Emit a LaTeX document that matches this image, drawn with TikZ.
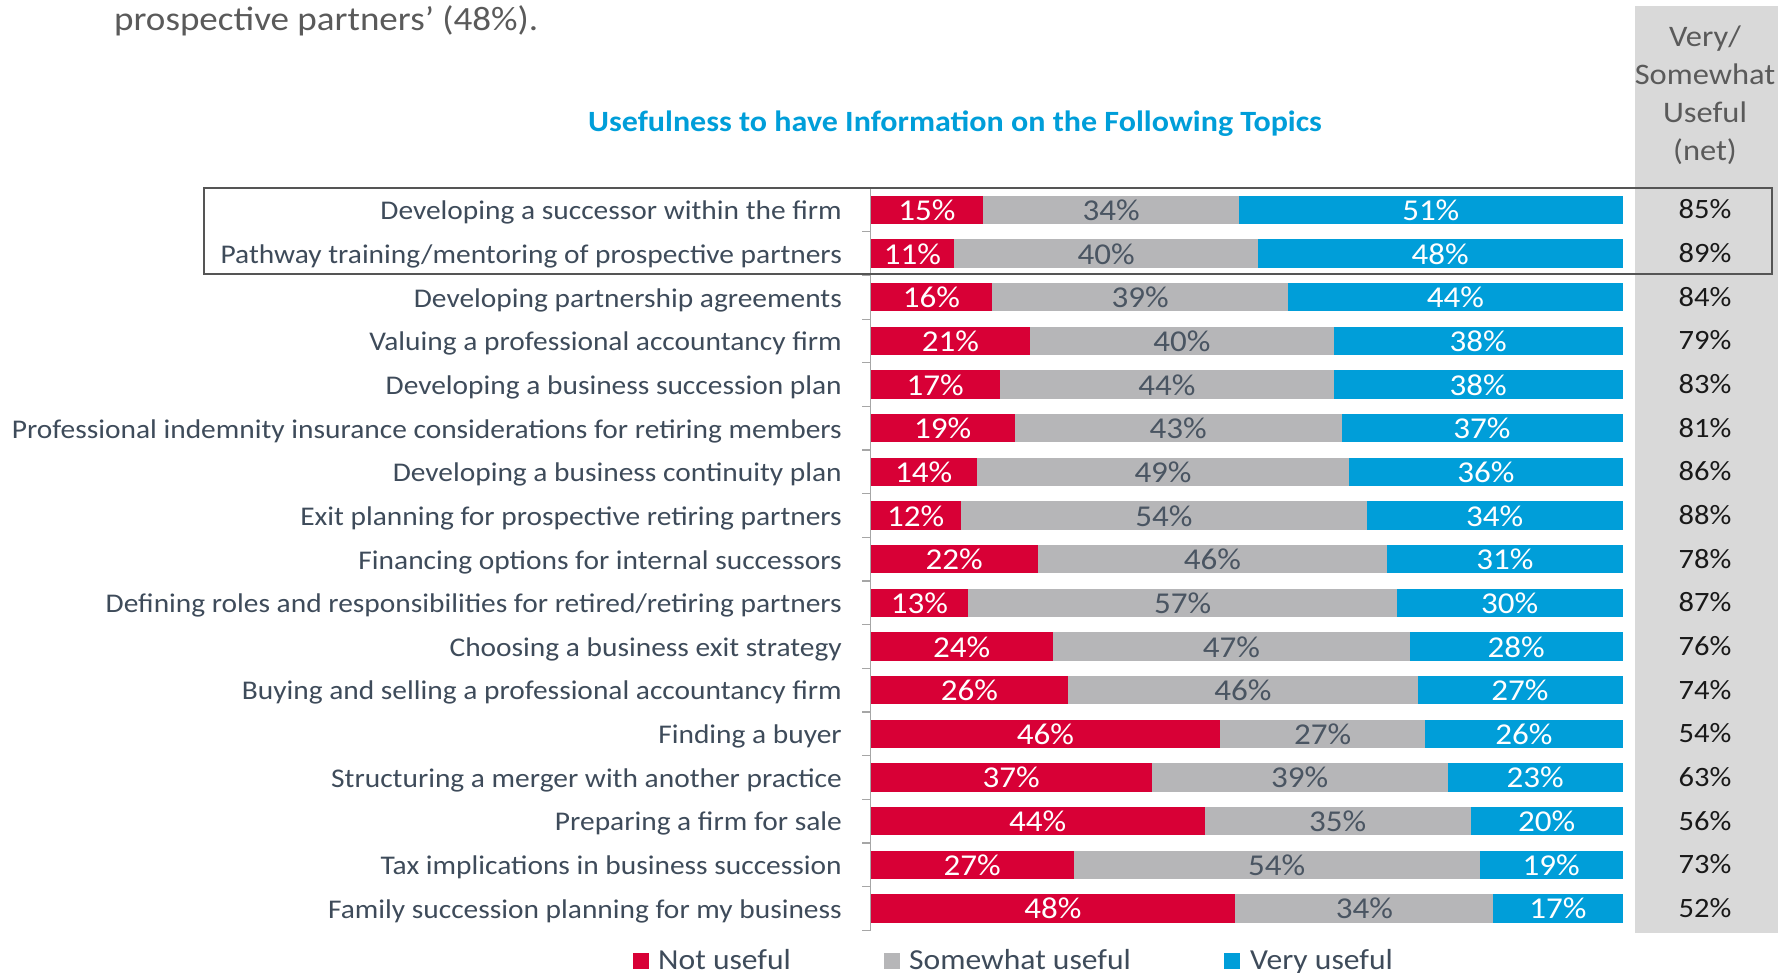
\documentclass[tikz,border=0pt]{standalone}
\usepackage{fontspec}
\setmainfont{Carlito}[FakeStretch=1.09]
\definecolor{notred}{HTML}{D80036}
\definecolor{somegray}{HTML}{B6B6B8}
\definecolor{veryblue}{HTML}{009ED9}
\definecolor{labelgray}{HTML}{3E4B5A}
\definecolor{numgray}{HTML}{4A5562}
\definecolor{netgray}{HTML}{D9D9D9}
\definecolor{introgray}{HTML}{5A5A5A}
\definecolor{boxgray}{HTML}{555555}
\tikzset{
  intro/.style={anchor=base west, inner sep=0pt, text=introgray, font=\fontsize{34}{38}\selectfont},
  charttitle/.style={anchor=base, inner sep=0pt, text=veryblue, font=\bfseries\fontsize{29.4}{32}\selectfont},
  nethead/.style={anchor=base, inner sep=0pt, text=introgray, font=\fontsize{29.8}{32}\selectfont},
  rowlabel/.style={anchor=base east, inner sep=0pt, text=labelgray, font=\fontsize{27}{30}\selectfont},
  barnum/.style={anchor=base, inner sep=0pt, font=\fontsize{30.3}{32}\selectfont},
  netnum/.style={anchor=base, inner sep=0pt, text=black!90, font=\fontsize{28}{30}\selectfont},
  legtext/.style={anchor=base west, inner sep=0pt, text=labelgray, font=\fontsize{29}{32}\selectfont}
}
\begin{document}
\begin{tikzpicture}[x=1pt,y=-1pt]
    \useasboundingbox (0,0) rectangle (1789,973);

    % intro line and title
    \node[intro] (intro) at (114,31) {prospective partners’ (48\%).};
    \node[charttitle] (title) at (955,132) {Usefulness to have Information on the Following Topics};

    % net column
    \fill[netgray] (1635,6) rectangle (1778,933);
    \foreach \t [count=\k] in {Very/,Somewhat,Useful,(net)}
        \node[nethead] (head\k) at (1705,9.3+37.7*\k) {\t};

    % bars, labels and values
    \foreach \lab/\r/\g/\b/\n [count=\i] in {
        {Developing a successor within the firm}/15/34/51/85,
        {Pathway training/mentoring of prospective partners}/11/40/48/89,
        {Developing partnership agreements}/16/39/44/84,
        {Valuing a professional accountancy firm}/21/40/38/79,
        {Developing a business succession plan}/17/44/38/83,
        {Professional indemnity insurance considerations for retiring members}/19/43/37/81,
        {Developing a business continuity plan}/14/49/36/86,
        {Exit planning for prospective retiring partners}/12/54/34/88,
        {Financing options for internal successors}/22/46/31/78,
        {Defining roles and responsibilities for retired/retiring partners}/13/57/30/87,
        {Choosing a business exit strategy}/24/47/28/76,
        {Buying and selling a professional accountancy firm}/26/46/27/74,
        {Finding a buyer}/46/27/26/54,
        {Structuring a merger with another practice}/37/39/23/63,
        {Preparing a firm for sale}/44/35/20/56,
        {Tax implications in business succession}/27/54/19/73,
        {Family succession planning for my business}/48/34/17/52}{
        \pgfmathsetmacro{\y}{210+43.65*(\i-1)}
        \pgfmathsetmacro{\s}{\r+\g+\b}
        \pgfmathsetmacro{\xa}{870.6+752*(\r/\s)}
        \pgfmathsetmacro{\xb}{870.6+752*((\r+\g)/\s)}
        \fill[notred] (870.6,\y-14.2) rectangle (\xa,\y+14.2);
        \fill[somegray] (\xa,\y-14.2) rectangle (\xb,\y+14.2);
        \fill[veryblue] (\xb,\y-14.2) rectangle (1622.5,\y+14.2);
        \node[rowlabel] (lab\i) at (842,\y+9.8) {\lab};
        \node[barnum, text=white] (red\i) at ({(870.6+\xa)/2},\y+10.5) {\r\%};
        \node[barnum, text=numgray] (gray\i) at ({(\xa+\xb)/2},\y+10.5) {\g\%};
        \node[barnum, text=white] (blue\i) at ({(\xb+1622.5)/2},\y+10.5) {\b\%};
        \node[netnum] (net\i) at (1705,\y+9) {\n\%};
    }

    % axis with ticks
    \draw[gray!70, line width=1.2] (870.6,188.2) -- (870.6,930.3);
    \foreach \k in {0,...,17}
        \draw[gray!70, line width=1.2] (862,188.2+43.65*\k) -- (870.6,188.2+43.65*\k);

    % highlight box
    \draw[boxgray, line width=2] (204,188) rectangle (1772,274);

    % legend
    \fill[notred] (633,953) rectangle (649,969);
    \node[legtext] (legnot) at (658,969) {Not useful};
    \fill[somegray] (884,953) rectangle (900,969);
    \node[legtext] (legsome) at (909,969) {Somewhat useful};
    \fill[veryblue] (1224,953) rectangle (1240,969);
    \node[legtext] (legvery) at (1250,969) {Very useful};
\end{tikzpicture}
\end{document}
